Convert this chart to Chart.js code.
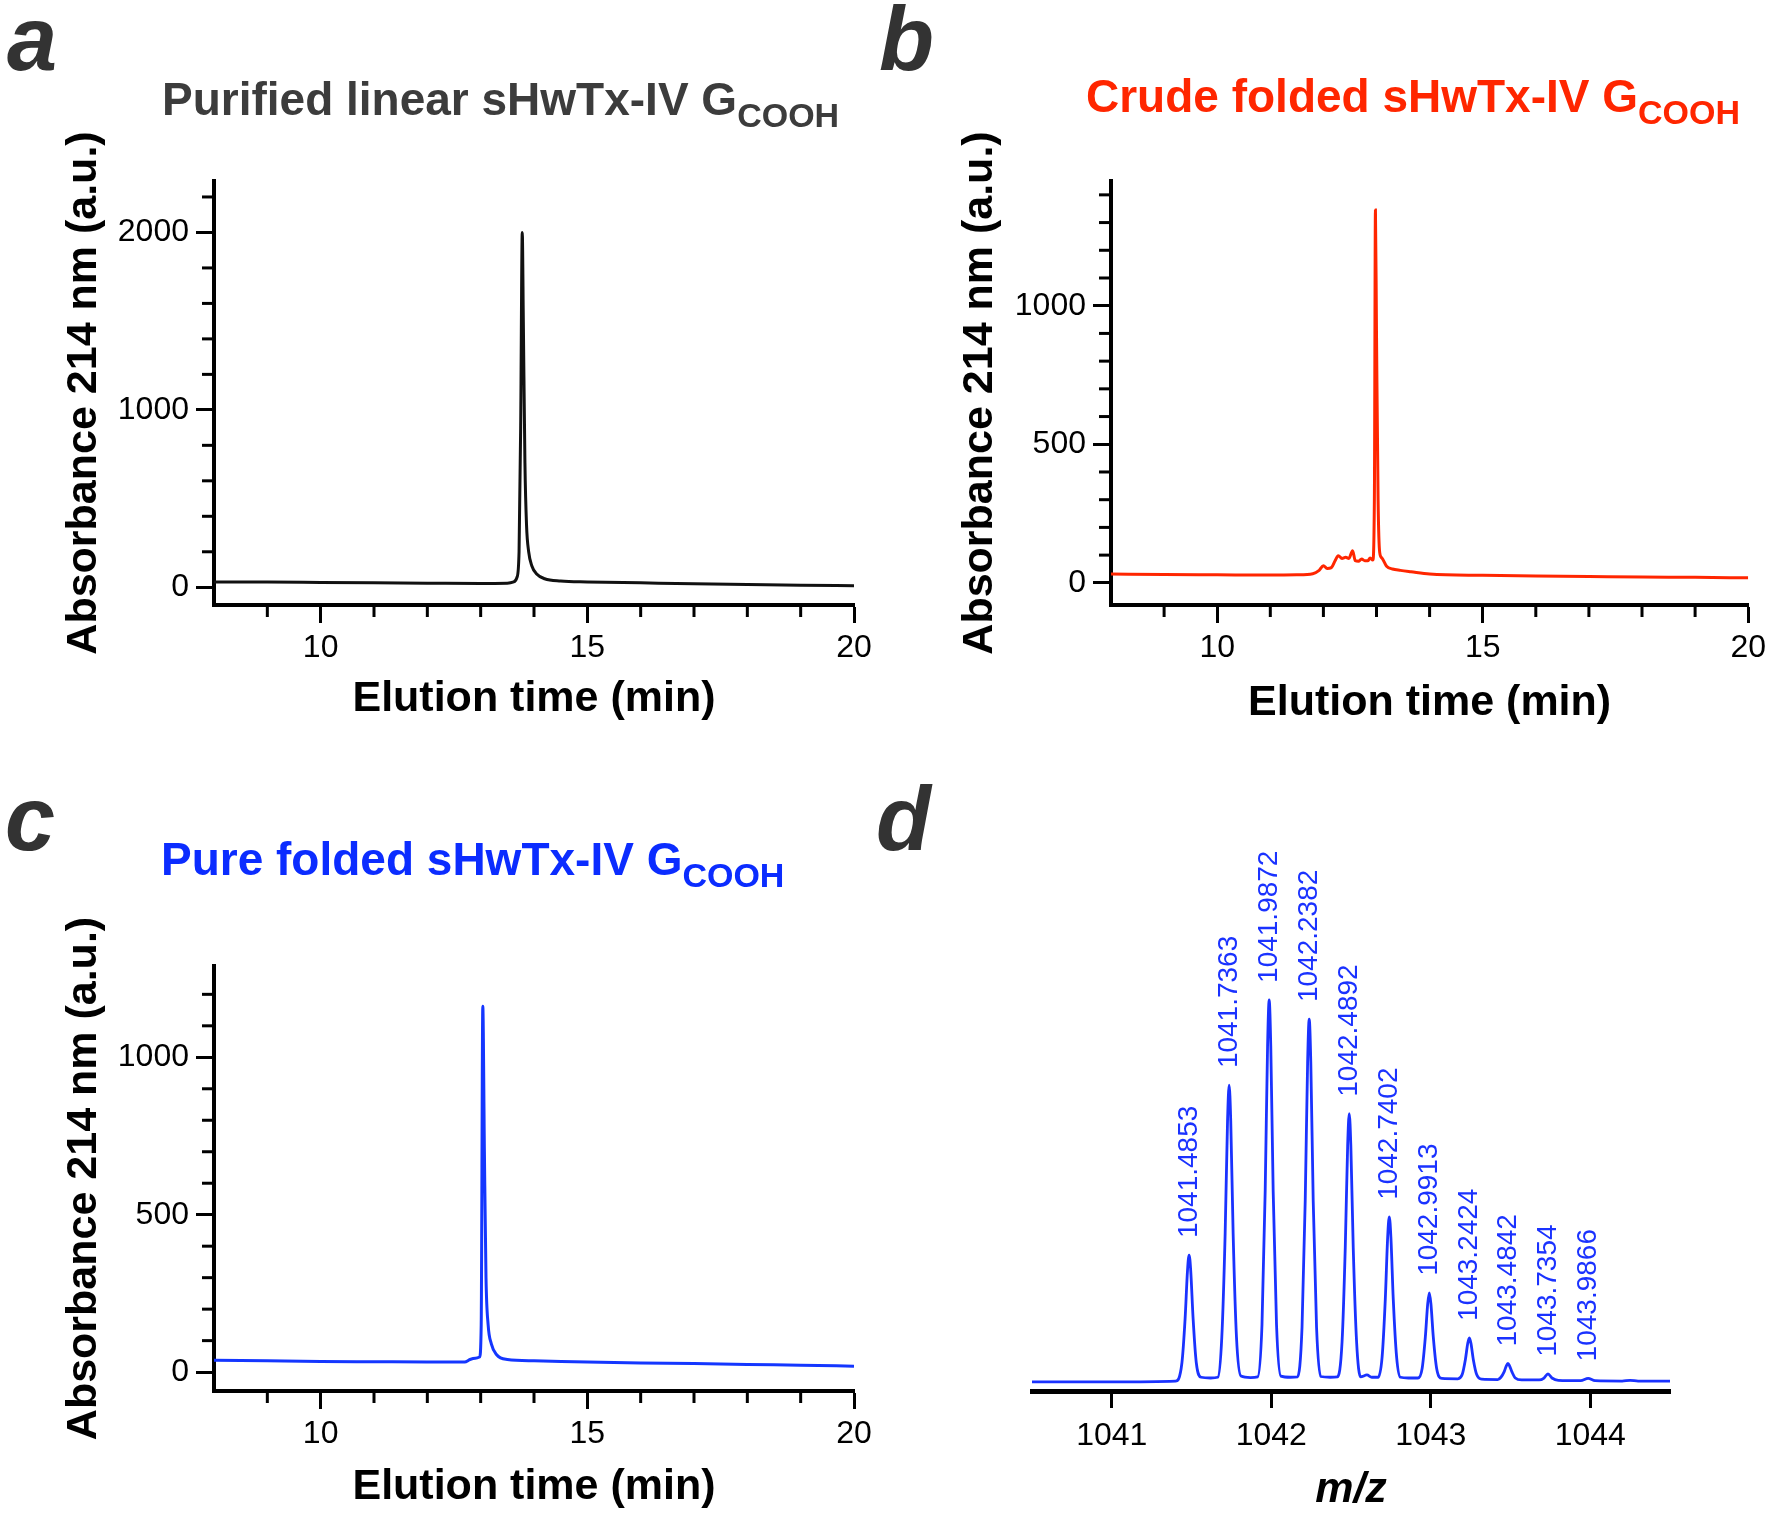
<!DOCTYPE html>
<html>
<head>
<meta charset="utf-8">
<script src="https://cdn.jsdelivr.net/npm/chart.js@4.4.1/dist/chart.umd.min.js"></script>
<style>
body { margin: 0; background: #fff; }
#page { position: relative; width: 1772px; height: 1518px; overflow: hidden; font-family: 'Liberation Sans', Arial, sans-serif; }
.box { position: absolute; }
.lab { position: absolute; font-size: 90px; line-height: 90px; font-weight: bold; font-style: italic; color: #333; }
.ttl { position: absolute; font-size: 46px; line-height: 46px; font-weight: bold; white-space: nowrap; }
.ttl span { font-size: 34px; vertical-align: -12px; }
</style>
</head>
<body>
<div id="page">
  <div class="box" style="left:0;top:90px"><canvas id="chA" width="886" height="670"></canvas></div>
  <div class="box" style="left:886px;top:90px"><canvas id="chB" width="886" height="670"></canvas></div>
  <div class="box" style="left:0;top:880px"><canvas id="chC" width="886" height="638"></canvas></div>
  <div class="box" style="left:886px;top:780px"><canvas id="chD" width="886" height="738"></canvas></div>

  <div class="lab" style="left:7px;top:-6px">a</div>
  <div class="lab" style="left:879px;top:-6px">b</div>
  <div class="lab" style="left:5px;top:774px">c</div>
  <div class="lab" style="left:876px;top:774px">d</div>

  <div class="ttl" style="left:162px;top:76px;color:#3c3c3c">Purified linear sHwTx-IV G<span>COOH</span></div>
  <div class="ttl" style="left:1086px;top:73px;color:#ff2600">Crude folded sHwTx-IV G<span>COOH</span></div>
  <div class="ttl" style="left:161px;top:836px;color:#0b2cff">Pure folded sHwTx-IV G<span>COOH</span></div>
</div>
<script>
// tick labels
const timeTicks = [10, 15, 20];
const timeMinor = [9, 11, 12, 13, 14, 16, 17, 18, 19];
const yTicksA = [0, 1000, 2000];
const yMinorA = [200, 400, 600, 800, 1200, 1400, 1600, 1800, 2200];
const yTicksB = [0, 500, 1000];
const yMinorB = [100, 200, 300, 400, 600, 700, 800, 900, 1100, 1200, 1300, 1400];
const yTicksC = [0, 500, 1000];
const yMinorC = [100, 200, 300, 400, 600, 700, 800, 900, 1100, 1200];
const mzTicks = [1041, 1042, 1043, 1044];

// a - purified linear
const timeA = [8.0, 9.0, 10.0, 11.0, 12.0, 13.0, 13.5, 13.62, 13.68, 13.72, 13.75, 13.78, 13.80, 13.83, 13.86, 13.90, 13.96, 14.05, 14.2, 14.5, 15.0, 16.0, 17.0, 18.0, 19.0, 20.0];
const absA  = [30, 29, 27, 25, 23, 21, 23, 30, 55, 200, 900, 2000, 1500, 700, 350, 200, 120, 75, 48, 35, 30, 25, 20, 16, 12, 9];

// b - crude folded
const timeB = [8.0, 9.0, 10.0, 11.0, 11.5, 11.8, 11.92, 12.0, 12.07, 12.15, 12.22, 12.28, 12.35, 12.42, 12.48, 12.55, 12.6, 12.66, 12.72, 12.78, 12.84, 12.88, 12.93, 12.96, 12.98, 13.0, 13.03, 13.06, 13.1, 13.19, 13.3, 13.45, 13.65, 14.0, 15.0, 16.0, 17.0, 18.0, 19.0, 20.0];
const absB  = [32, 30, 29, 28, 29, 33, 45, 62, 52, 55, 80, 98, 88, 92, 88, 116, 80, 78, 86, 80, 80, 90, 82, 300, 1345, 900, 300, 110, 90, 60, 50, 45, 40, 32, 27, 25, 23, 21, 20, 18];

// c - pure folded
const timeC = [8.0, 9.0, 10.0, 11.0, 12.0, 12.7, 12.8, 12.9, 12.98, 13.01, 13.04, 13.07, 13.10, 13.14, 13.2, 13.3, 13.5, 14.0, 15.0, 16.0, 17.0, 18.0, 19.0, 20.0];
const absC  = [38, 36, 34, 33, 32, 32, 40, 44, 48, 150, 1162, 700, 300, 150, 90, 55, 40, 36, 32, 29, 27, 24, 22, 19];

// d - mass spectrum (relative intensity)
const mzD = [1040.50, 1041.00, 1041.40, 1041.44, 1041.46, 1041.475, 1041.485, 1041.495, 1041.51, 1041.53, 1041.56, 1041.62,
  1041.665, 1041.69, 1041.711, 1041.726, 1041.736, 1041.746, 1041.761, 1041.782, 1041.81, 1041.87,
  1041.915, 1041.942, 1041.962, 1041.977, 1041.987, 1041.997, 1042.012, 1042.033, 1042.06, 1042.12,
  1042.165, 1042.193, 1042.213, 1042.228, 1042.238, 1042.248, 1042.263, 1042.284, 1042.31, 1042.37,
  1042.415, 1042.444, 1042.464, 1042.479, 1042.489, 1042.499, 1042.514, 1042.535, 1042.56, 1042.60, 1042.63,
  1042.67, 1042.695, 1042.715, 1042.730, 1042.740, 1042.750, 1042.765, 1042.786, 1042.81, 1042.86,
  1042.92, 1042.946, 1042.966, 1042.981, 1042.991, 1043.001, 1043.016, 1043.037, 1043.07,
  1043.17, 1043.197, 1043.217, 1043.232, 1043.242, 1043.252, 1043.267, 1043.288, 1043.32,
  1043.42, 1043.44, 1043.46, 1043.474, 1043.484, 1043.494, 1043.509, 1043.53, 1043.57,
  1043.68, 1043.71, 1043.735, 1043.76, 1043.80,
  1043.94, 1043.987, 1044.03, 1044.20, 1044.25, 1044.30, 1044.50];
const intD = [0, 0, 0.2, 5.0, 16.6, 29.2, 33.2, 29.2, 16.6, 5.0, 1.2, 1.0,
  1.2, 11.7, 38.9, 68.4, 77.7, 68.4, 38.9, 11.7, 1.5, 1.1,
  1.3, 15, 50, 88, 100, 88, 50, 15, 1.5, 1.2,
  1.3, 14.3, 47.5, 83.6, 95, 83.6, 47.5, 14.3, 1.4, 1.2,
  1.3, 10.5, 35.1, 61.8, 70.2, 61.8, 35.1, 10.5, 1.3, 1.8, 1.2,
  1.2, 6.5, 21.6, 38.0, 43.2, 38.0, 21.6, 6.5, 1.2, 1.0,
  1.0, 3.5, 11.7, 20.5, 23.3, 20.5, 11.7, 3.5, 0.9,
  0.8, 1.9, 5.8, 10.1, 11.5, 10.1, 5.8, 1.9, 0.7,
  0.6, 1.2, 2.6, 4.2, 4.8, 4.2, 2.6, 1.0, 0.5,
  0.5, 1.0, 2.1, 1.0, 0.4,
  0.3, 0.9, 0.3, 0.2, 0.4, 0.2, 0.2];
const peakMz  = [1041.4853, 1041.7363, 1041.9872, 1042.2382, 1042.4892, 1042.7402, 1042.9913, 1043.2424, 1043.4842, 1043.7354, 1043.9866];
const peakInt = [33.2, 77.7, 100, 95, 70.2, 43.2, 23.3, 11.5, 4.8, 2.1, 0.9];

const FONT = "'Liberation Sans', Arial, sans-serif";
Chart.defaults.font.family = FONT;
Chart.defaults.color = '#000';

// short ticks between the labelled ones
Chart.register({
  id: 'minorTicks',
  afterDraw(chart, args, o) {
    const ctx = chart.ctx, a = chart.chartArea;
    ctx.save();
    ctx.strokeStyle = '#000';
    ctx.lineWidth = 3;
    (o.x || []).forEach(v => {
      const p = chart.scales.x.getPixelForValue(v);
      ctx.beginPath(); ctx.moveTo(p, a.bottom); ctx.lineTo(p, a.bottom + o.len); ctx.stroke();
    });
    (o.y || []).forEach(v => {
      const p = chart.scales.y.getPixelForValue(v);
      ctx.beginPath(); ctx.moveTo(a.left - o.len, p); ctx.lineTo(a.left, p); ctx.stroke();
    });
    ctx.restore();
  }
});

function pts(xs, ys) { return xs.map((x, i) => ({ x: x, y: ys[i] })); }

function lcChart(id, xs, ys, color, c) {
  return new Chart(document.getElementById(id), {
    type: 'line',
    data: { datasets: [{ data: pts(xs, ys), borderColor: color, borderWidth: 3, pointRadius: 0, fill: false, cubicInterpolationMode: 'monotone' }] },
    options: {
      responsive: false, animation: false, events: [],
      layout: { padding: { left: 0, top: c.padTop, right: c.padRight, bottom: 0 } },
      plugins: { legend: { display: false }, tooltip: { enabled: false },
        minorTicks: { x: timeMinor, y: c.yMinor, len: 12 } },
      scales: {
        x: {
          type: 'linear', min: 8, max: 20,
          afterBuildTicks: s => { s.ticks = timeTicks.map(v => ({ value: v })); },
          afterFit: s => { s.height = c.xH; },
          ticks: { font: { size: 32 }, color: '#000', padding: 6, maxRotation: 0, autoSkip: false, callback: v => String(v) },
          grid: { drawOnChartArea: false, drawTicks: true, tickLength: 18, tickWidth: 3, tickColor: '#000' },
          border: { display: true, width: 4, color: '#000' },
          title: { display: true, text: 'Elution time (min)', color: '#000', font: { size: 43, weight: 'bold' }, padding: { top: 0, bottom: c.xTitlePad } }
        },
        y: {
          type: 'linear', min: c.yMin, max: c.yMax,
          afterBuildTicks: s => { s.ticks = c.yTicks.map(v => ({ value: v })); },
          afterFit: s => { s.width = c.yW; },
          ticks: { font: { size: 32 }, color: '#000', padding: 7, autoSkip: false, callback: v => String(v) },
          grid: { drawOnChartArea: false, drawTicks: true, tickLength: 18, tickWidth: 3, tickColor: '#000' },
          border: { display: true, width: 4, color: '#000' },
          title: { display: true, text: 'Absorbance 214 nm (a.u.)', color: '#000', font: { size: 43, weight: 'bold' }, padding: { top: c.yTitlePad, bottom: 0 } }
        }
      }
    }
  });
}

lcChart('chA', timeA, absA, '#111111', { padTop: 91, padRight: 32, xH: 155, yW: 214, yMin: -100, yMax: 2290, yTicks: yTicksA, yMinor: yMinorA, xTitlePad: 35, yTitlePad: 58 });
lcChart('chB', timeB, absB, '#ff2600', { padTop: 91, padRight: 23, xH: 155, yW: 225, yMin: -80, yMax: 1450, yTicks: yTicksB, yMinor: yMinorB, xTitlePad: 31, yTitlePad: 68 });
lcChart('chC', timeC, absC, '#1436ff', { padTop: 86, padRight: 32, xH: 127, yW: 214, yMin: -60, yMax: 1290, yTicks: yTicksC, yMinor: yMinorC, xTitlePad: 5, yTitlePad: 58 });

const BLUE = '#1a32ff';
const peakText = {
  id: 'peakText',
  afterDatasetsDraw(chart) {
    const ctx = chart.ctx, x = chart.scales.x, y = chart.scales.y;
    ctx.save();
    ctx.fillStyle = BLUE;
    ctx.font = '28px ' + FONT;
    ctx.textAlign = 'left';
    ctx.textBaseline = 'middle';
    peakMz.forEach((m, i) => {
      ctx.save();
      ctx.translate(x.getPixelForValue(m), y.getPixelForValue(peakInt[i]) - 17);
      ctx.rotate(-Math.PI / 2);
      ctx.fillText(m.toFixed(4), 0, 0);
      ctx.restore();
    });
    ctx.restore();
  }
};

new Chart(document.getElementById('chD'), {
  type: 'line',
  data: { datasets: [{ data: pts(mzD, intD), borderColor: BLUE, borderWidth: 2.8, pointRadius: 0, fill: false, cubicInterpolationMode: 'monotone' }] },
  options: {
    responsive: false, animation: false, events: [],
    layout: { padding: { left: 146, top: 50, right: 102, bottom: 0 } },
    plugins: { legend: { display: false }, tooltip: { enabled: false } },
    scales: {
      x: {
        type: 'linear', min: 1040.5, max: 1044.5,
        afterBuildTicks: s => { s.ticks = mzTicks.map(v => ({ value: v })); },
        afterFit: s => { s.height = 127; },
        ticks: { font: { size: 32 }, color: '#000', padding: 9, maxRotation: 0, autoSkip: false, callback: v => String(v) },
        grid: { drawOnChartArea: false, drawTicks: true, tickLength: 17, tickWidth: 3, tickColor: '#000' },
        border: { display: true, width: 5, color: '#000' },
        title: { display: true, text: 'm/z', color: '#000', font: { size: 43, weight: 'bold', style: 'italic' }, padding: { top: 0, bottom: 2 } }
      },
      y: { display: false, min: -2.4, max: 144.5 }
    }
  },
  plugins: [peakText]
});
</script>
</body>
</html>
